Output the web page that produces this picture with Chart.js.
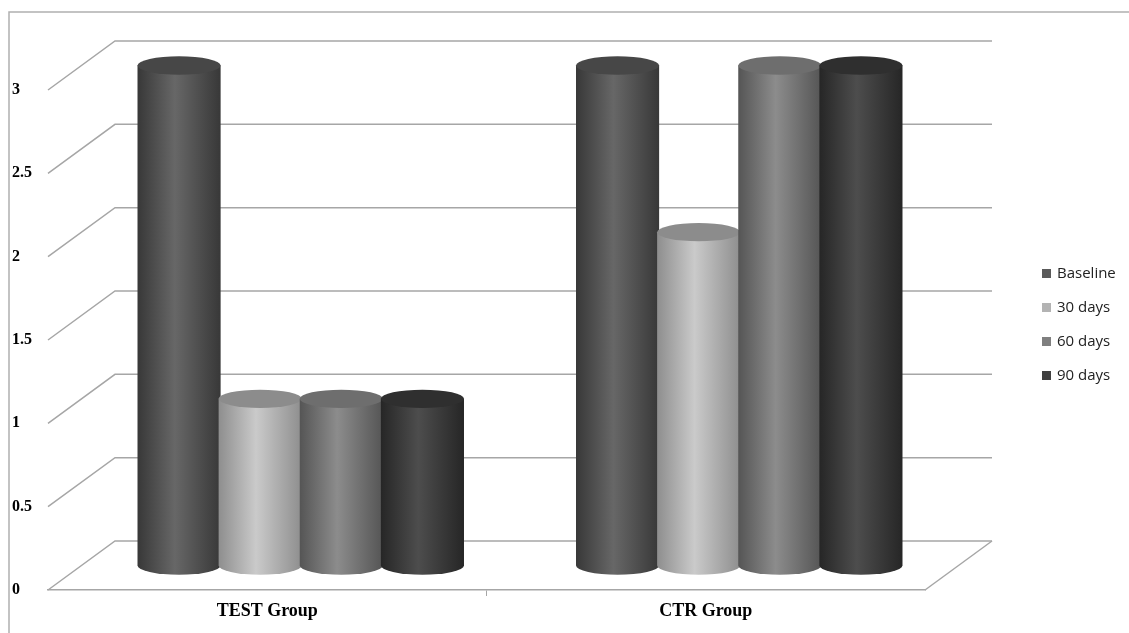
<!DOCTYPE html>
<html>
<head>
<meta charset="utf-8">
<script src="https://cdn.jsdelivr.net/npm/chart.js@4.4.0/dist/chart.umd.min.js"></script>
<style>
  html, body { margin: 0; padding: 0; background: #fff; }
  #wrap { width: 1129px; height: 633px; }
</style>
</head>
<body>
<div id="wrap"><canvas id="chart"></canvas></div>
<script>
// chart data
const groups = ["TEST Group", "CTR Group"];
const seriesNames = ["Baseline", "30 days", "60 days", "90 days"];
const baseline = [3, 3];
const days30 = [1, 2];
const days60 = [1, 3];
const days90 = [1, 3];

// greys for each series: [edge, middle, top cap, legend]
const shades = [
  ["#383838", "#676767", "#474747", "#5a5a5a"],
  ["#8e8e8e", "#cacaca", "#8c8c8c", "#b3b3b3"],
  ["#555555", "#8c8c8c", "#6e6e6e", "#7f7f7f"],
  ["#262626", "#4d4d4d", "#2f2f2f", "#404040"]
];

const DEPTH_X = 67, DEPTH_Y = -49; // 3d depth of the plot box
const gridColor = "#a6a6a6";

const cylinders = {
  id: "cylinders",
  beforeDatasetsDraw(chart) {
    const { ctx, chartArea, scales } = chart;
    const y = scales.y;
    ctx.save();
    ctx.strokeStyle = gridColor;
    ctx.lineWidth = 1.5;
    // back wall lines + side diagonals
    y.ticks.forEach(t => {
      const py = y.getPixelForValue(t.value);
      ctx.beginPath();
      ctx.moveTo(chartArea.left, py);
      ctx.lineTo(chartArea.left + DEPTH_X, py + DEPTH_Y);
      ctx.lineTo(chartArea.right + DEPTH_X, py + DEPTH_Y);
      ctx.stroke();
    });
    // floor right edge
    const p0 = y.getPixelForValue(0);
    ctx.beginPath();
    ctx.moveTo(chartArea.right, p0);
    ctx.lineTo(chartArea.right + DEPTH_X, p0 + DEPTH_Y);
    ctx.stroke();

    // cylinders, placed half way into the depth
    const ox = DEPTH_X / 2, oy = DEPTH_Y / 2;
    chart.data.datasets.forEach((ds, di) => {
      const meta = chart.getDatasetMeta(di);
      const s = shades[di];
      meta.data.forEach(bar => {
        const w = bar.width + 2;
        const cx = bar.x + ox;
        const left = cx - w / 2, right = cx + w / 2;
        const top = bar.y + oy, bot = bar.base + oy;
        const ry = w * 0.11;
        const g = ctx.createLinearGradient(left, 0, right, 0);
        g.addColorStop(0, s[0]);
        g.addColorStop(0.45, s[1]);
        g.addColorStop(1, s[0]);
        ctx.fillStyle = g;
        ctx.beginPath();
        ctx.moveTo(left, top);
        ctx.lineTo(left, bot);
        ctx.ellipse(cx, bot, w / 2, ry, 0, Math.PI, 0, true);
        ctx.lineTo(right, top);
        ctx.closePath();
        ctx.fill();
        ctx.fillStyle = s[2];
        ctx.beginPath();
        ctx.ellipse(cx, top, w / 2, ry, 0, 0, Math.PI * 2);
        ctx.fill();
      });
    });
    ctx.restore();
    return false;
  },
  afterDraw(chart) {
    const { ctx } = chart;
    ctx.save();
    // outer frame
    ctx.strokeStyle = "#b0b0b0";
    ctx.lineWidth = 1.5;
    ctx.beginPath();
    ctx.moveTo(9, 633);
    ctx.lineTo(9, 12);
    ctx.lineTo(1129, 12);
    ctx.stroke();
    // legend
    ctx.font = "15px 'Open Sans', sans-serif";
    ctx.textBaseline = "middle";
    chart.data.datasets.forEach((ds, i) => {
      const ly = 274 + i * 34;
      ctx.fillStyle = shades[i][3];
      ctx.fillRect(1042, ly - 5, 9, 9);
      ctx.fillStyle = "#222";
      ctx.fillText(ds.label, 1057, ly);
    });
    ctx.restore();
  }
};

new Chart(document.getElementById("chart"), {
  type: "bar",
  data: {
    labels: groups,
    datasets: [
      { label: seriesNames[0], data: baseline, backgroundColor: shades[0][3] },
      { label: seriesNames[1], data: days30, backgroundColor: shades[1][3] },
      { label: seriesNames[2], data: days60, backgroundColor: shades[2][3] },
      { label: seriesNames[3], data: days90, backgroundColor: shades[3][3] }
    ]
  },
  options: {
    responsive: true,
    maintainAspectRatio: false,
    animation: false,
    layout: { padding: { left: 12, top: 90, right: 204, bottom: 0 } },
    plugins: { legend: { display: false }, tooltip: { enabled: false } },
    datasets: { bar: { categoryPercentage: 0.74, barPercentage: 1 } },
    scales: {
      x: {
        afterFit: s => { s.height = 43; },
        grid: {
          display: true, drawOnChartArea: false, tickLength: 6, offset: true,
          color: c => (c.index === 1 ? gridColor : "rgba(0,0,0,0)")
        },
        border: { display: true, color: gridColor, width: 1.5 },
        ticks: {
          padding: 5,
          color: "#000",
          font: { family: "'Liberation Serif', serif", size: 18, weight: "bold" }
        }
      },
      y: {
        min: 0,
        max: 3,
        afterFit: s => { s.width = 36; },
        grid: { display: false },
        border: { display: false },
        ticks: {
          stepSize: 0.5,
          crossAlign: "far",
          color: "#000",
          callback: v => String(v),
          font: { family: "'Liberation Serif', serif", size: 16, weight: "bold" }
        }
      }
    }
  },
  plugins: [cylinders]
});
</script>
</body>
</html>
